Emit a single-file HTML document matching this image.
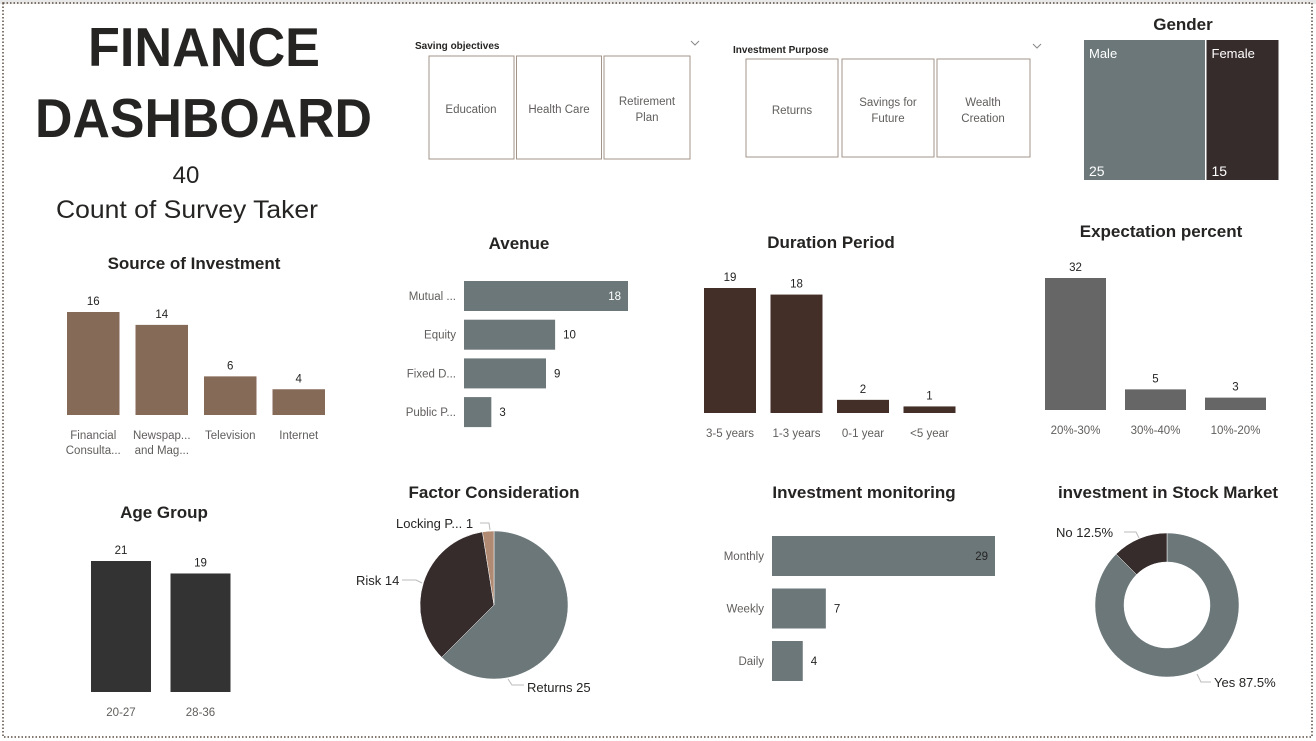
<!DOCTYPE html>
<html><head><meta charset="utf-8">
<style>
body{margin:0;background:#fff;}
svg{display:block;font-family:"Liberation Sans",sans-serif;}
.t{font-weight:bold;font-size:17px;fill:#252423;text-anchor:middle;}
.lb{font-size:11.5px;fill:#605e5c;}
.v{font-size:11.5px;fill:#252423;}
.sl{font-size:11.5px;fill:#605e5c;text-anchor:middle;}
</style></head>
<body>
<svg id="s" width="1316" height="741" viewBox="0 0 1316 741" xmlns="http://www.w3.org/2000/svg">
<rect x="0" y="0" width="1316" height="4" fill="#e8e8e8"/>
<rect x="3" y="3" width="1309" height="734" fill="none" stroke="#5a4a3f" stroke-width="1.5" stroke-dasharray="1.5,2"/>
<g>
<text x="88" y="66" textLength="232" lengthAdjust="spacingAndGlyphs" font-size="55" font-weight="bold" fill="#252423">FINANCE</text>
<text x="35" y="137" textLength="337" lengthAdjust="spacingAndGlyphs" font-size="55" font-weight="bold" fill="#252423">DASHBOARD</text>
</g>
<g>
<text x="186" y="183" text-anchor="middle" font-size="24" fill="#252423">40</text>
<text x="56" y="218" textLength="262" lengthAdjust="spacingAndGlyphs" font-size="25" fill="#252423">Count of Survey Taker</text>
</g>
<g>
<text x="415" y="49" font-size="10" font-weight="bold" fill="#252423">Saving objectives</text>
<path d="M691 41 l4 4 l4 -4" fill="none" stroke="#888"/>
<rect x="429" y="56" width="85" height="103" fill="#fff" stroke="#a39489"/>
<rect x="516.5" y="56" width="85" height="103" fill="#fff" stroke="#a39489"/>
<rect x="604" y="56" width="86" height="103" fill="#fff" stroke="#a39489"/>
<text class="sl" x="471" y="113">Education</text>
<text class="sl" x="559" y="113">Health Care</text>
<text class="sl" x="647" y="105">Retirement</text><text class="sl" x="647" y="121">Plan</text>
</g>
<g>
<text x="733" y="53" font-size="10" font-weight="bold" fill="#252423">Investment Purpose</text>
<path d="M1033 44 l4 4 l4 -4" fill="none" stroke="#888"/>
<rect x="746" y="59" width="92" height="98" fill="#fff" stroke="#a39489"/>
<rect x="842" y="59" width="92" height="98" fill="#fff" stroke="#a39489"/>
<rect x="937" y="59" width="93" height="98" fill="#fff" stroke="#a39489"/>
<text class="sl" x="792" y="114">Returns</text>
<text class="sl" x="888" y="106">Savings for</text><text class="sl" x="888" y="122">Future</text>
<text class="sl" x="983" y="106">Wealth</text><text class="sl" x="983" y="122">Creation</text>
</g>
<g id="charts"></g>
</svg>
<script>
// Gender treemap
const genderCats=["Male","Female"];
const genderVals=[25,15];
// Source of Investment
const srcCats=[["Financial","Consulta..."],["Newspap...","and Mag..."],["Television"],["Internet"]];
const srcVals=[16,14,6,4];
// Avenue
const avCats=["Mutual ...","Equity","Fixed D...","Public P..."];
const avVals=[18,10,9,3];
// Duration
const durCats=["3-5 years","1-3 years","0-1 year","<5 year"];
const durVals=[19,18,2,1];
// Expectation
const expCats=["20%-30%","30%-40%","10%-20%"];
const expVals=[32,5,3];
// Age
const ageCats=["20-27","28-36"];
const ageVals=[21,19];
// Factor
const facCats=["Returns","Risk","Locking P..."];
const facVals=[25,14,1];
// Monitoring
const monCats=["Monthly","Weekly","Daily"];
const monVals=[29,7,4];
// Stock market
const stkCats=["Yes","No"];
const stkVals=[87.5,12.5];

const NS="http://www.w3.org/2000/svg";
const root=document.getElementById('charts');
function mk(tag,attrs,parent,text){const e=document.createElementNS(NS,tag);for(const k in attrs)e.setAttribute(k,attrs[k]);if(text!==undefined)e.textContent=text;(parent||root).appendChild(e);return e;}
function group(name){const g=mk('g',{});


return g;}

// Gender
(function(){const g=group('gender-treemap');
mk('text',{x:1183,y:30,class:'t'},g,'Gender');
const tot=genderVals.reduce((a,b)=>a+b,0);const x0=1084,W=196;let x=x0;const cols=['#6b7779','#372c2c'];
genderVals.forEach((v,i)=>{const w=W*v/tot;const r=mk('rect',{x:x,y:40,width:w-1.5,height:140,fill:cols[i]},g);


mk('text',{x:x+5,y:58,'font-size':13,fill:'#fff'},g,genderCats[i]);
mk('text',{x:x+5,y:176,'font-size':14,fill:'#fff'},g,String(v));x+=w;});})();

function vbars(name,title,tx,ty,cats,vals,x0,bw,gap,base,maxV,maxH,col){
 const g=group(name);mk('text',{x:tx,y:ty,class:'t'},g,title);
 const yS=v=>base-v/maxV*maxH;
 vals.forEach((v,i)=>{const x=x0+i*(bw+gap);const r=mk('rect',{x:x,y:yS(v),width:bw,height:base-yS(v),fill:col},g);
 
 
 mk('text',{x:x+bw/2,y:yS(v)-7,class:'v','text-anchor':'middle'},g,String(v));
 const c=Array.isArray(cats[i])?cats[i]:[cats[i]];
 c.forEach((s,j)=>mk('text',{x:x+bw/2,y:base+24+j*15,class:'lb','text-anchor':'middle'},g,s));});
}
vbars('source-of-investment-chart','Source of Investment',194,269,srcCats,srcVals,67,52.5,16,415,16,103,'#866a58');
vbars('duration-period-chart','Duration Period',831,248,durCats,durVals,704,52,14.5,413,19,125,'#432e28');
vbars('expectation-percent-chart','Expectation percent',1161,237,expCats,expVals,1045,61,19,410,32,132,'#666666');
vbars('age-group-chart','Age Group',164,518,ageCats,ageVals,91,60,19.5,692,21,131,'#333333');

function hbars(name,title,tx,ty,cats,vals,x0,yc0,step,bh,maxV,maxW,insideCol){
 const g=group(name);mk('text',{x:tx,y:ty,class:'t'},g,title);
 const xS=v=>v/maxV*maxW;
 vals.forEach((v,i)=>{const yc=yc0+i*step;const w=xS(v);const r=mk('rect',{x:x0,y:yc-bh/2,width:w,height:bh,fill:'#6b7779'},g);
 
 
 mk('text',{x:x0-8,y:yc+4,class:'lb','text-anchor':'end'},g,cats[i]);
 if(i===0) mk('text',{x:x0+w-7,y:yc+4,'font-size':'11.5px','text-anchor':'end',fill:insideCol},g,String(v));
 else mk('text',{x:x0+w+8,y:yc+4,class:'v'},g,String(v));});
}
hbars('avenue-chart','Avenue',519,249,avCats,avVals,464,296,38.7,30,18,164,'#ffffff');
hbars('investment-monitoring-chart','Investment monitoring',864,498,monCats,monVals,772,556,52.5,40,29,223,'#252423');

function arc(cx,cy,r,ri,a0,a1){const p=(a,rr)=>[cx+rr*Math.sin(a),cy-rr*Math.cos(a)];const L=(a1-a0)>Math.PI?1:0;
 const [x0,y0]=p(a0,r),[x1,y1]=p(a1,r);
 if(!ri) return `M${cx} ${cy}L${x0} ${y0}A${r} ${r} 0 ${L} 1 ${x1} ${y1}Z`;
 const [x2,y2]=p(a1,ri),[x3,y3]=p(a0,ri);
 return `M${x0} ${y0}A${r} ${r} 0 ${L} 1 ${x1} ${y1}L${x2} ${y2}A${ri} ${ri} 0 ${L} 0 ${x3} ${y3}Z`;}

// Factor pie
(function(){const g=group('factor-consideration-pie');mk('text',{x:494,y:498,class:'t'},g,'Factor Consideration');
 const cols=['#6b7779','#372c2c','#b08a72'];const tot=facVals.reduce((a,b)=>a+b,0);let a=0;
 facVals.forEach((v,i)=>{const a1=a+v/tot*2*Math.PI;const p=mk('path',{d:arc(494,605,74,0,a,a1),fill:cols[i],stroke:'#fff','stroke-width':0.5},g);
 
 a=a1;});
 mk('path',{d:'M508 679 l4 6 h12',fill:'none',stroke:'#bbb'},g);
 mk('text',{x:527,y:692,'font-size':13,fill:'#252423'},g,facCats[0]+' '+facVals[0]);
 mk('path',{d:'M402 580 h14 l6 3',fill:'none',stroke:'#bbb'},g);
 mk('text',{x:356,y:585,'font-size':13,fill:'#252423'},g,facCats[1]+' '+facVals[1]);
 mk('path',{d:'M480 523 h9 l1 7',fill:'none',stroke:'#bbb'},g);
 mk('text',{x:396,y:528,'font-size':13,fill:'#252423'},g,facCats[2]+' '+facVals[2]);
})();

// Donut
(function(){const g=group('stock-market-donut');mk('text',{x:1168,y:498,class:'t'},g,'investment in Stock Market');
 const cols=['#6b7779','#372c2c'];const tot=stkVals.reduce((a,b)=>a+b,0);let a=0;
 stkVals.forEach((v,i)=>{const a1=a+v/tot*2*Math.PI;const p=mk('path',{d:arc(1167,605,72,43,a,a1),fill:cols[i],stroke:'#fff','stroke-width':0.5},g);
 
 a=a1;});
 mk('text',{x:1056,y:537,'font-size':13,fill:'#252423'},g,stkCats[1]+' '+stkVals[1]+'%');
 mk('path',{d:'M1124 532 h12 l3 6',fill:'none',stroke:'#bbb'},g);
 mk('text',{x:1214,y:687,'font-size':13,fill:'#252423'},g,stkCats[0]+' '+stkVals[0]+'%');
 mk('path',{d:'M1197 674 l4 8 h10',fill:'none',stroke:'#bbb'},g);
})();
</script>
</body></html>
